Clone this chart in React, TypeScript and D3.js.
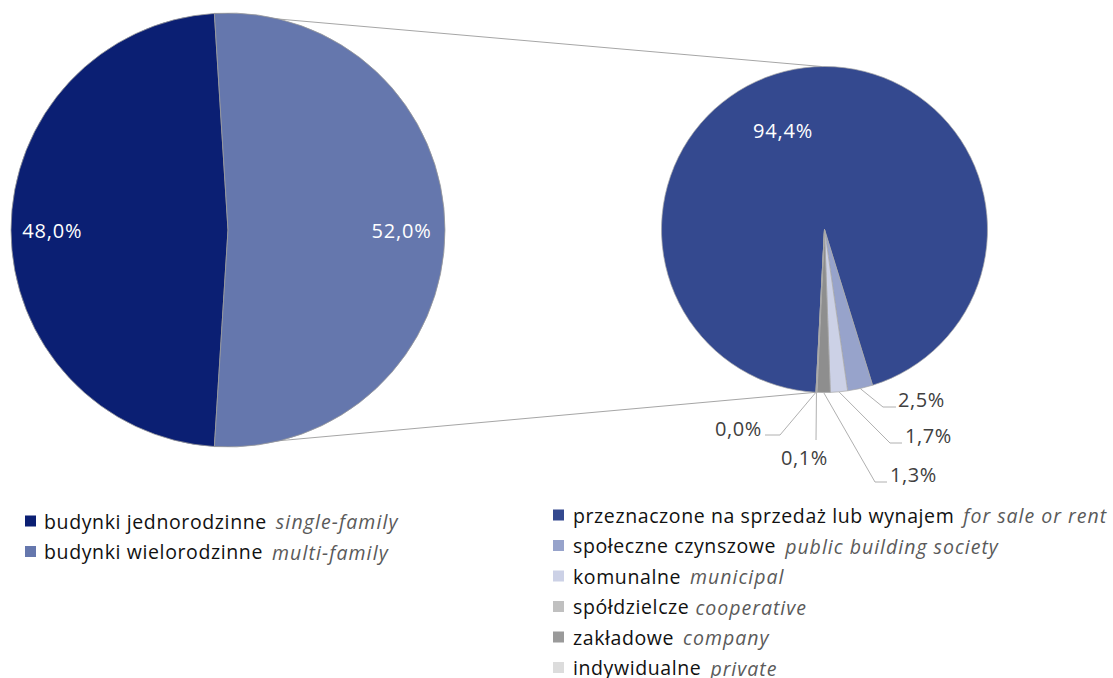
import React from "react";
import * as d3 from "d3";

// ---- data ----
const mainCategories = ["budynki jednorodzinne", "budynki wielorodzinne"];
const mainCategoriesEn = ["single-family", "multi-family"];
const mainValues = [48.0, 52.0];
const mainColors = ["#0b1f73", "#6577ad"];

const subCategories = [
  "przeznaczone na sprzedaż lub wynajem",
  "społeczne czynszowe",
  "komunalne",
  "spółdzielcze",
  "zakładowe",
  "indywidualne",
];
const subCategoriesEn = [
  "for sale or rent",
  "public building society",
  "municipal",
  "cooperative",
  "company",
  "private",
];
const subValues = [94.4, 2.5, 1.7, 1.3, 0.1, 0.0];
const subSliceColors = ["#34498f", "#97a3cb", "#ccd1e6", "#8e8e8e", "#c0c0c0", "#dcdcdc"];
const subLegendColors = ["#34498f", "#97a3cb", "#ccd1e6", "#c0c0c0", "#9a9a9a", "#dcdcdc"];
const legendGapWide = [true, true, true, false, true, true];

const fmt = (v: number) => v.toFixed(1).replace(".", ",") + "%";
const deg = (a: number) => (a * Math.PI) / 180;

// ---- layout ----
const W = 1113;
const H = 678;
const L = { cx: 228, cy: 230, r: 217 };
const R = { cx: 824.5, cy: 229.5, r: 163 };
const FONT = "'Open Sans', 'Noto Sans', sans-serif";
const LEG_FS = 19.5;
const LBL_FS = 20;

// leader/label placement for the small slices, relative to the secondary pie centre
const subLabelLayout = [
  { inside: true, x: -41.5, y: -99 },
  { elbow: [58.5, 177.5], end: [71.5, 177.5], tx: 73.5, ty: 177.5, anchor: "start" },
  { elbow: [65.5, 213.5], end: [77.5, 213.5], tx: 80.5, ty: 213.5, anchor: "start" },
  { elbow: [50.5, 252.5], end: [62.5, 252.5], tx: 65.5, ty: 252.5, anchor: "start" },
  { elbow: [-8.5, 210.5], end: [-8.5, 210.5], tx: -43.5, ty: 235, anchor: "start" },
  { elbow: [-44.5, 205.5], end: [-59.5, 205.5], tx: -62.5, ty: 206.5, anchor: "end" },
];

export default function App() {
  // main pie: single-family starts at 183.6° and goes clockwise
  const mainStart = deg(180 + (mainValues[1] - 50) * 1.8);
  const mainPie = d3
    .pie<number>()
    .sort(null)
    .startAngle(mainStart)
    .endAngle(mainStart + 2 * Math.PI)(mainValues);
  const mainArc = d3.arc<d3.PieArcDatum<number>>().innerRadius(0).outerRadius(L.r);

  // secondary pie: small slices finish at 183°
  const subStart = deg(183 - 360);
  const subPie = d3
    .pie<number>()
    .sort(null)
    .startAngle(subStart)
    .endAngle(subStart + 2 * Math.PI)(subValues);
  const subArc = d3.arc<d3.PieArcDatum<number>>().innerRadius(0).outerRadius(R.r);

  const polar = (c: { cx: number; cy: number }, r: number, a: number) => [
    c.cx + r * Math.sin(a),
    c.cy - r * Math.cos(a),
  ];

  // connector lines
  const lTop = polar(L, L.r, mainPie[1].startAngle);
  const lBot = polar(L, L.r, mainPie[1].endAngle);
  const rTop = polar(R, R.r, deg(-1));
  const rBot = polar(R, R.r, subPie[subPie.length - 1].endAngle);

  const mainLabelR = [0.81, 0.8];

  return (
    <svg
      width={W}
      height={H}
      style={{ position: "absolute", left: 0, top: 0, background: "#fff" }}
      fontFamily={FONT}
    >
      {/* connectors */}
      <line x1={lTop[0]} y1={lTop[1]} x2={rTop[0]} y2={rTop[1]} stroke="#a6a6a6" strokeWidth={1} />
      <line x1={lBot[0]} y1={lBot[1]} x2={rBot[0]} y2={rBot[1]} stroke="#a6a6a6" strokeWidth={1} />

      {/* main pie */}
      <g transform={`translate(${L.cx},${L.cy})`}>
        {mainPie.map((d, i) => (
          <path key={i} d={mainArc(d) || ""} fill={mainColors[i]} stroke="#9a9a9a" strokeWidth={0.8} />
        ))}
        {mainPie.map((d, i) => {
          const a = (d.startAngle + d.endAngle) / 2;
          const r = L.r * mainLabelR[i];
          return (
            <text
              key={i}
              x={r * Math.sin(a)}
              y={-r * Math.cos(a)}
              textAnchor="middle"
              dominantBaseline="central"
              fill="#fff"
              fontSize={LBL_FS}
              letterSpacing={0.8}
            >
              {fmt(mainValues[i])}
            </text>
          );
        })}
      </g>

      {/* secondary pie */}
      <g transform={`translate(${R.cx},${R.cy})`}>
        {subPie.map((d, i) => (
          <path key={i} d={subArc(d) || ""} fill={subSliceColors[i]} stroke="#a8a8a8" strokeWidth={0.7} />
        ))}
        {subPie.map((d, i) => {
          const lay: any = subLabelLayout[i];
          if (lay.inside) {
            return (
              <text
                key={i}
                x={lay.x}
                y={lay.y}
                textAnchor="middle"
                dominantBaseline="central"
                fill="#fff"
                fontSize={LBL_FS}
                letterSpacing={0.8}
              >
                {fmt(subValues[i])}
              </text>
            );
          }
          const a = (d.startAngle + d.endAngle) / 2;
          const s = [R.r * Math.sin(a), -R.r * Math.cos(a)];
          const pts = [s, lay.elbow, lay.end];
          return (
            <g key={i}>
              <polyline
                points={pts.map((p: number[]) => p.join(",")).join(" ")}
                fill="none"
                stroke="#b0b0b0"
                strokeWidth={1}
              />
              <text
                x={lay.tx}
                y={lay.ty}
                textAnchor={lay.anchor}
                fill="#404040"
                fontSize={LBL_FS}
                letterSpacing={0.6}
              >
                {fmt(subValues[i])}
              </text>
            </g>
          );
        })}
      </g>

      {/* left legend */}
      {mainCategories.map((c, i) => (
        <g key={c} transform={`translate(25,${521 + i * 30.5})`}>
          <rect x={0} y={-5.5} width={11} height={11} fill={mainColors[i]} />
          <text x={19} y={0} dominantBaseline="central" fontSize={LEG_FS} fill="#111" letterSpacing={0.62}>
            {c}
            <tspan dx={9} fill="#5a5a5a" fontStyle="italic" letterSpacing={1.1}>
              {mainCategoriesEn[i]}
            </tspan>
          </text>
        </g>
      ))}

      {/* right legend */}
      {subCategories.map((c, i) => (
        <g key={c} transform={`translate(553,${515 + i * 30.5})`}>
          <rect x={0} y={-5.5} width={11} height={11} fill={subLegendColors[i]} />
          <text x={20} y={0} dominantBaseline="central" fontSize={LEG_FS} fill="#111" letterSpacing={0.6}>
            {c}
            <tspan dx={legendGapWide[i] ? 9 : 0} fill="#5a5a5a" fontStyle="italic" letterSpacing={1.0}>
              {(legendGapWide[i] ? "" : " ") + subCategoriesEn[i]}
            </tspan>
          </text>
        </g>
      ))}
    </svg>
  );
}
